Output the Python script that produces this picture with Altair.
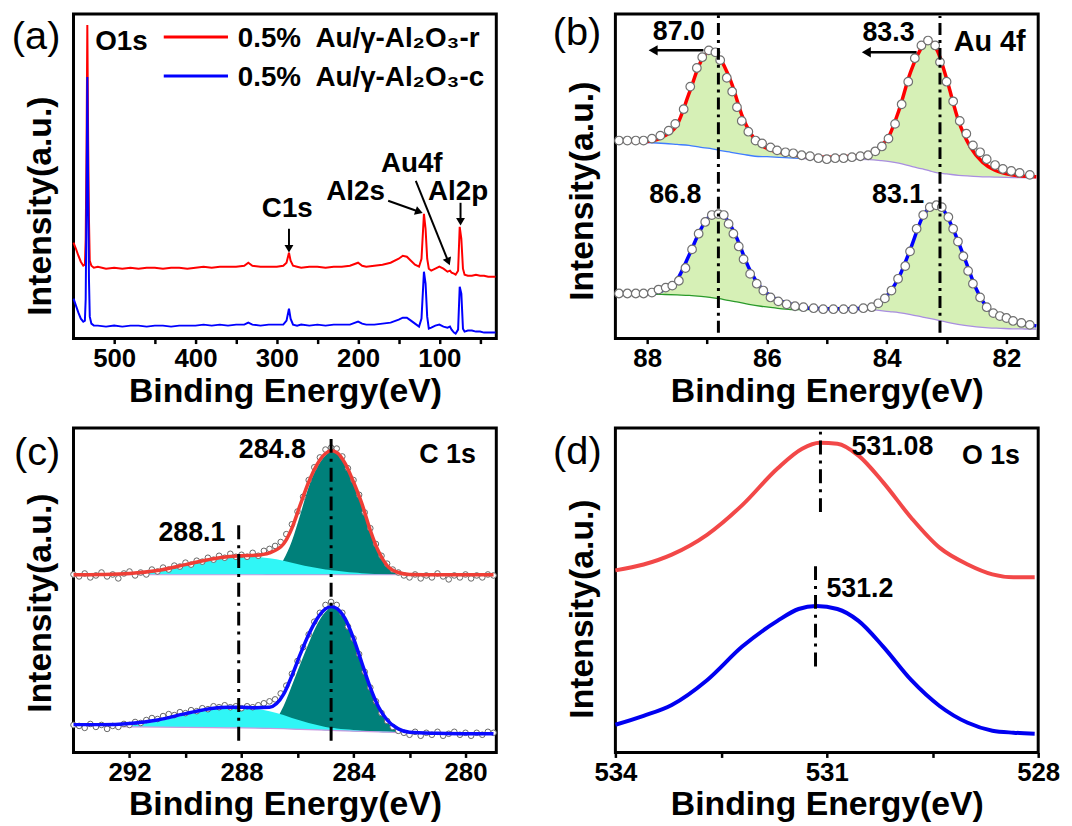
import altair as alt
import pandas as pd

FONT = "Liberation Sans"
RED = "#ff0000"
BLUE = "#0000ff"

# ---------------- (a) survey spectra ----------------
A_EV = [550, 547, 544, 541, 538, 536, 535, 534, 533, 532, 531, 530, 528, 525, 520, 510, 500, 490, 480, 470,
        460, 450, 440, 430, 420, 410, 400, 390, 380, 370, 360, 350, 340, 335, 330, 320, 310, 300, 292, 288,
        285, 283, 280, 275, 270, 260, 250, 240, 230, 220, 210, 200, 195, 190, 180, 170, 160, 150, 145, 140,
        135, 130, 125, 122, 119, 117, 115, 113, 110, 105, 100, 95, 90, 87, 85, 82, 80, 77, 75, 73,
        71, 69, 65, 60, 55, 50, 45, 40, 35, 31]
A_R = [96, 90, 83, 77, 73, 74, 100, 190, 314, 200, 120, 78, 73, 71, 72, 70, 71, 70, 71, 70,
       71, 71, 70, 71, 71, 70, 71, 72, 71, 72, 72, 72, 73, 76, 73, 72, 72, 72, 73, 76,
       86, 78, 73, 72, 71, 72, 72, 71, 72, 72, 73, 76, 73, 72, 73, 74, 76, 80, 83, 82,
       78, 74, 72, 80, 125, 110, 80, 70, 68, 70, 72, 70, 67, 68, 66, 65, 64, 68, 112, 100,
       70, 64, 63, 63, 64, 63, 63, 62, 62, 62]
A_C = [40, 33, 26, 20, 17, 18, 40, 140, 262, 150, 60, 22, 15, 13, 13, 12, 13, 12, 13, 13,
       12, 13, 13, 12, 13, 13, 13, 14, 13, 14, 13, 14, 14, 16, 14, 13, 14, 14, 14, 18,
       30, 20, 14, 13, 14, 13, 14, 13, 14, 14, 14, 17, 15, 14, 14, 15, 16, 19, 21, 21,
       18, 15, 12, 20, 67, 55, 22, 10, 11, 13, 14, 12, 11, 12, 9, 6, 5, 9, 52, 45,
       10, 7, 8, 8, 7, 7, 6, 6, 6, 6]
LBL_R = "0.5%\u00a0 Au/γ-Al₂O₃-r"
LBL_C = "0.5%\u00a0 Au/γ-Al₂O₃-c"
# legend sample lines / labels (data units of panel a)
LEG_X1 = [439, 439]
LEG_X2 = [360, 360]
LEG_Y = [302, 263]
LEG_TX = [348, 348]
LEG_TY = [300, 261]
A_TXT = ["O1s", "C1s", "Al2s", "Au4f", "Al2p"]
A_TXT_X = [491, 287, 203, 134, 77]
A_TXT_Y = [297, 130, 147, 175, 147]
A_ARR_X1 = [285, 163, 129, 74]
A_ARR_Y1 = [110, 138, 158, 136]
A_ARR_X2 = [285, 125, 89, 74]
A_ARR_Y2 = [90, 127, 77, 117]
A_ARR_ANG = [180, 110, 158, 180]

# ---------------- (b) Au 4f ----------------
B_R_CIRC_X = [88.47, 88.33, 88.19, 88.06, 87.92, 87.78, 87.64, 87.53, 87.39, 87.28, 87.17, 87.08,
              86.97, 86.86, 86.78, 86.67, 86.58, 86.5, 86.42, 86.31, 86.19, 86.08,
              85.94, 85.83, 85.69, 85.56, 85.42, 85.28, 85.14, 85.0,
              84.86, 84.72, 84.58, 84.44, 84.31, 84.19, 84.08,
              83.97, 83.86, 83.75, 83.64, 83.53, 83.42, 83.31, 83.19, 83.11, 83.0,
              82.89, 82.78, 82.67, 82.56, 82.44, 82.33, 82.19, 82.06, 81.92, 81.78, 81.61]
B_R_CIRC_Y = [202, 202, 202, 202, 204, 207, 212, 219, 234, 257, 276, 287,
              294, 292, 284, 266, 252, 236, 222, 211, 202, 199,
              195, 192, 190, 189, 187, 186, 184, 183,
              184, 184, 185, 186, 187, 191, 196,
              204, 219, 239, 262, 286, 299, 304, 299, 282, 262,
              242, 222, 209, 197, 190, 183, 177, 173, 171, 169, 167]
B_R_FIT_X = [88.47, 88.0, 87.7, 87.5, 87.3, 87.1, 86.95, 86.8, 86.6, 86.4, 86.2, 86.0, 85.7, 85.4, 85.0, 84.6,
             84.3, 84.1, 83.95, 83.8, 83.6, 83.4, 83.28, 83.15, 83.0, 82.8, 82.6, 82.4, 82.2, 82.0, 81.8, 81.5]
B_R_FIT_Y = [201.5, 201, 207, 218, 250, 283, 293, 287, 262, 225, 203, 194, 189, 186, 185, 186,
             189, 196, 208, 232, 272, 298, 303, 293, 265, 222, 195, 180, 172, 168, 166, 165]
B_R_BG_Y = [200.7, 200, 199, 198, 197, 195, 194, 192, 190, 188, 186, 185.5, 184.5, 183.5, 183, 183,
            182.5, 181.5, 180.5, 179, 176, 173, 171, 169, 168, 166.5, 165.7, 165, 164.8, 164.5, 164.2, 164]
B_C_CIRC_X = [88.47, 88.33, 88.19, 88.06, 87.92, 87.81, 87.69, 87.58, 87.47, 87.36, 87.25, 87.14, 87.03,
              86.92, 86.81, 86.72, 86.64, 86.56, 86.47, 86.39, 86.28, 86.17, 86.06,
              85.94, 85.81, 85.67, 85.53, 85.39, 85.22, 85.06,
              84.89, 84.72, 84.56, 84.39, 84.25, 84.14, 84.03,
              83.92, 83.81, 83.69, 83.61, 83.5, 83.39, 83.28, 83.17, 83.08,
              82.97, 82.89, 82.81, 82.72, 82.64, 82.56, 82.44, 82.33, 82.22, 82.11, 82.0,
              81.89, 81.75, 81.61]
B_C_CIRC_Y = [46, 46, 46, 46, 47, 50, 52, 54, 59, 72, 91, 107, 119,
              126, 127, 126, 117, 107, 94, 81, 66, 56, 49,
              42, 38, 35, 33, 32, 31, 30,
              30, 30, 30, 31, 32, 36, 41,
              49, 61, 74, 89, 112, 126, 134, 136, 134,
              124, 112, 99, 84, 69, 56, 42, 32, 26, 23, 21,
              18, 16, 14]
B_C_FIT_X = [88.47, 88.0, 87.7, 87.5, 87.3, 87.1, 86.95, 86.8, 86.65, 86.5, 86.3, 86.1, 85.9, 85.6, 85.3, 85.0,
             84.6, 84.3, 84.1, 83.95, 83.8, 83.6, 83.4, 83.2, 83.05, 82.9, 82.7, 82.5, 82.3, 82.1, 81.9, 81.7, 81.5]
B_C_FIT_Y = [46, 46, 50, 60, 85, 112, 125, 127, 120, 102, 72, 52, 42, 35, 31, 30.5,
             30.5, 31.5, 37, 47, 62, 92, 124, 136, 131, 113, 82, 50, 30, 22, 18, 15, 13]
B_C_BG_Y = [45.5, 45.5, 45, 44.5, 44, 43, 42, 40.7, 39, 37.5, 35, 33, 31.5, 29.7, 29.7, 29.7,
            29.7, 29.7, 28.5, 27.5, 26.5, 24.5, 22, 19.5, 17.5, 15.5, 13.5, 12, 11, 10.5, 10, 9.8, 9.7]
B_DASH_X = [86.81, 83.11]
B_DASH_Y1 = [6, 6]
B_DASH_Y2 = [331, 329]
B_ARR_X1 = [87.06, 83.50]
B_ARR_X2 = [87.90, 84.34]
B_ARR_Y = [294, 292]
B_TXT = ["87.0", "83.3", "86.8", "83.1"]
B_TXT_X = [87.47, 83.97, 87.53, 83.81]
B_TXT_Y = [313, 312, 146, 146]

# ---------------- (c) C 1s ----------------
C_EV = [294, 293, 292, 291, 290, 289, 288.5, 288, 287.5, 287, 286.5, 286.2, 285.9, 285.6, 285.3, 285.0,
        284.8, 284.6, 284.3, 284.0, 283.7, 283.4, 283.1, 282.8, 282.4, 282, 281, 280, 279]
C_R_FIT = [180.7, 181, 182, 185, 191, 197, 199, 200, 200.5, 203, 212, 228, 252, 275, 293, 304,
           306.7, 305, 294, 275, 253, 226, 204, 190, 183, 181, 180.7, 180.7, 180.7]
C_R_CYAN = [180.7, 181, 182, 185, 190.5, 197, 199.5, 200, 199, 197.5, 195, 193, 191, 189, 187.5, 186,
            185.3, 184.7, 183.8, 183, 182.3, 181.8, 181.4, 181, 180.7, 180.7, 180.7, 180.7, 180.7]
C_R_TEAL = [180.7, 180.7, 180.7, 180.7, 180.7, 180.7, 180.7, 180.7, 180.7, 182, 196, 215, 242, 270, 290, 302,
            306, 304, 293, 273, 250, 224, 202, 189, 182, 180.7, 180.7, 180.7, 180.7]
C_R_BG = [180.7, 180.7, 180.7, 180.7, 180.7, 180.7, 180.7, 180.7, 180.7, 180.7, 180.7, 180.7, 180.7, 180.7,
          180.7, 180.7, 180.7, 180.7, 180.7, 180.7, 180.7, 180.7, 180.7, 180.7, 180.7, 180.7, 180.7, 180.7, 180.7]
C_C_FIT = [28.3, 28.3, 29.5, 33, 39.5, 45, 46, 46, 45.5, 46, 59, 78, 100, 120, 136, 146,
           148.3, 146.5, 136, 116, 91, 66, 46, 33, 24, 20.5, 19.5, 19, 19]
C_C_CYAN = [26.7, 27, 28, 31.5, 38, 44, 45.5, 45.7, 44.5, 42, 38, 35, 32.5, 30, 28, 26,
            25.2, 24.5, 23.5, 22.8, 22.2, 21.8, 21.5, 21.2, 20.6, 20.2, 19.6, 19.3, 19]
C_C_TEAL = [26.7, 26.4, 26.1, 25.8, 25.5, 25.2, 25.1, 25, 24.8, 27, 47, 68, 90, 111, 130, 143,
            147.5, 146, 135, 115, 90, 65, 45, 31, 23, 20.5, 19.6, 19.3, 19]
C_C_BG = [26.7, 26.4, 26.1, 25.8, 25.5, 25.2, 25.1, 25, 24.8, 24.5, 24.1, 23.8, 23.5, 23.2, 23, 22.7,
          22.5, 22.3, 22, 21.7, 21.4, 21.1, 20.9, 20.6, 20.2, 20, 19.6, 19.3, 19]
C_CIRC_X = [294.0, 293.8, 293.6, 293.4, 293.2, 293.0, 292.8, 292.6, 292.4, 292.2,
            292.0, 291.8, 291.6, 291.4, 291.2, 291.0, 290.8, 290.6, 290.4, 290.2,
            290.0, 289.8, 289.6, 289.4, 289.2, 289.0, 288.8, 288.6, 288.4, 288.2,
            288.0, 287.8, 287.6, 287.4, 287.2, 287.0, 286.8, 286.6, 286.4, 286.2,
            286.0, 285.8, 285.6, 285.4, 285.2, 285.0, 284.8, 284.6, 284.4, 284.2,
            284.0, 283.8, 283.6, 283.4, 283.2, 283.0, 282.8, 282.6, 282.4, 282.2,
            282.0, 281.8, 281.6, 281.4, 281.2, 281.0, 280.8, 280.6, 280.4, 280.2,
            280.0, 279.8, 279.6, 279.4, 279.2, 279.0]
C_R_CIRC = [181, 179, 182, 178, 180, 183, 179, 181, 177, 182,
            184, 180, 183, 181, 186, 184, 188, 186, 190, 189,
            193, 191, 195, 194, 198, 196, 200, 198, 202, 199,
            201, 199, 203, 200, 205, 207, 210, 214, 222, 232,
            245, 260, 277, 290, 300, 308, 310, 309, 301, 289,
            277, 262, 244, 228, 212, 200, 192, 186, 183, 180,
            178, 181, 177, 180, 178, 182, 179, 176, 180, 178,
            181, 177, 180, 178, 181, 180]
C_C_CIRC = [28, 27, 25, 29, 26, 28, 24, 27, 26, 29,
            28, 31, 30, 33, 35, 34, 37, 39, 38, 41,
            40, 43, 42, 45, 44, 47, 46, 48, 46, 47,
            45, 47, 46, 48, 50, 52, 54, 60, 68, 80,
            93, 107, 120, 133, 142, 150, 153, 150, 142, 128,
            116, 100, 82, 66, 52, 40, 32, 26, 22, 20,
            18, 21, 17, 20, 18, 21, 17, 19, 21, 18,
            20, 17, 20, 18, 21, 20]
C_DASH_X = [288.1, 284.8]
C_DASH_Y1 = [12, 12]
C_DASH_Y2 = [232, 323]
C_TXT = ["284.8", "288.1", "C 1s"]
C_TXT_X = [286.9, 289.77, 280.64]
C_TXT_Y = [308, 223, 302]

# ---------------- (d) O 1s ----------------
D_R_EV = [534.0, 533.6, 533.2, 532.7, 532.2, 531.7, 531.35, 531.1, 530.85, 530.55, 530.2, 529.8, 529.4,
          529.0, 528.65, 528.35, 528.05]
D_R = [184, 190, 200, 220, 250, 287, 307, 313, 312, 300, 273, 237, 207, 190, 180, 177, 177]
D_C_EV = [534.0, 533.6, 533.2, 532.7, 532.2, 531.7, 531.4, 531.15, 530.85, 530.55, 530.2, 529.8, 529.4,
          529.0, 528.65, 528.35, 528.05]
D_C = [28, 37, 48, 73, 107, 133, 145, 148, 145, 133, 107, 73, 47, 30, 22, 20, 19]
D_DASH_X = [531.09, 531.16]
D_DASH_Y1 = [243, 87]
D_DASH_Y2 = [325, 193]
D_TXT = ["531.08", "531.2", "O 1s"]
D_TXT_X = [530.07, 530.53, 528.67]
D_TXT_Y = [309, 165, 300]

PANEL_LBL = ["(a)", "(b)", "(c)", "(d)"]
PANEL_X = [596, 89.17, 295.3, 534.54]
PANEL_Y = [302, 312, 304, 304]

W, H = 426, 327


def axes(xvals, test, title_y):
    ax = alt.Axis(values=xvals, labelExpr=f"({test}) ? datum.label : ''",
                  title="Binding Energy(eV)", grid=False, domain=False,
                  ticks=True, tickSize=5, tickWidth=2.5, tickColor="black",
                  labelFont=FONT, labelFontSize=26, labelFontWeight="bold", labelColor="black",
                  labelPadding=2, labelOverlap=False, labelFlush=False,
                  titleFont=FONT, titleFontSize=34, titleFontWeight="bold", titleColor="black",
                  titlePadding=3)
    ay = alt.Axis(title="Intensity(a.u.)", labels=False, ticks=False, domain=False, grid=False,
                  titleFont=FONT, titleFontSize=34, titleFontWeight="bold", titleColor="black",
                  titlePadding=16, titleY=title_y)
    return ax, ay


def make_xy(xdom, ydom, ax, ay):
    xs = alt.Scale(domain=xdom, nice=False, zero=False)
    ys = alt.Scale(domain=ydom, nice=False, zero=False)

    def X(f):
        return alt.X(f"{f}:Q", scale=xs, axis=ax)

    def Y(f):
        return alt.Y(f"{f}:Q", scale=ys, axis=ay)
    return X, Y


def text_layer(X, Y, t, xs, ys, size=27, weight="bold", align="center"):
    df = pd.DataFrame({"x": xs, "y": ys, "t": t})
    return alt.Chart(df).mark_text(font=FONT, fontSize=size, fontWeight=weight, color="black",
                                   align=align, baseline="middle").encode(
        x=X("x"), y=Y("y"), text="t:N")


def dash_layer(X, Y, xs, y1, y2, dash):
    df = pd.DataFrame({"x": xs, "y": y1, "y2": y2})
    return alt.Chart(df).mark_rule(color="black", strokeWidth=3, strokeDash=dash).encode(
        x=X("x"), y=Y("y"), y2="y2:Q")


# ---------- panel (a) ----------
ax, ay = axes([500, 450, 400, 350, 300, 250, 200, 150, 100, 50], "datum.value % 100 == 0", 193)
X, Y = make_xy([550, 30], [0, 325], ax, ay)
cscale = alt.Scale(domain=[LBL_R, LBL_C], range=[RED, BLUE])
dfA = pd.DataFrame({"x": A_EV + A_EV, "y": A_R + A_C,
                    "s": [LBL_R] * len(A_EV) + [LBL_C] * len(A_EV)})
a_lines = alt.Chart(dfA).mark_line(strokeWidth=2).encode(
    x=X("x"), y=Y("y"), color=alt.Color("s:N", scale=cscale, legend=None))
dfLeg = pd.DataFrame({"x": LEG_X1, "x2": LEG_X2, "y": LEG_Y, "tx": LEG_TX, "ty": LEG_TY,
                      "s": [LBL_R, LBL_C]})
a_leg_line = alt.Chart(dfLeg).mark_rule(strokeWidth=3).encode(
    x=X("x"), x2="x2:Q", y=Y("y"), color=alt.Color("s:N", scale=cscale, legend=None))
a_leg_txt = alt.Chart(dfLeg).mark_text(font=FONT, fontSize=28, fontWeight="bold", color="black",
                                       align="left", baseline="middle").encode(
    x=X("tx"), y=Y("ty"), text="s:N")
dfAarr = pd.DataFrame({"x": A_ARR_X1, "y": A_ARR_Y1, "x2": A_ARR_X2, "y2": A_ARR_Y2, "a": A_ARR_ANG})
a_arr = alt.Chart(dfAarr).mark_rule(color="black", strokeWidth=2).encode(
    x=X("x"), y=Y("y"), x2="x2:Q", y2="y2:Q")
a_head = alt.Chart(dfAarr).mark_point(shape="triangle-up", filled=True, color="black", size=80,
                                      opacity=1).encode(
    x=X("x2"), y=Y("y2"), angle=alt.Angle("a:Q", scale=None))
pa = alt.layer(
    a_lines, a_leg_line, a_leg_txt, a_arr, a_head,
    text_layer(X, Y, A_TXT, A_TXT_X, A_TXT_Y, 28),
    text_layer(X, Y, [PANEL_LBL[0]], [PANEL_X[0]], [PANEL_Y[0]], 40, "normal"),
).properties(width=W, height=H)

# ---------- panel (b) ----------
ax, ay = axes([88, 87, 86, 85, 84, 83, 82], "datum.value % 2 == 0", 178)
X, Y = make_xy([88.53, 81.47], [0, 331], ax, ay)
b_layers = []
for fx, fy, bg, circx, circy, col, bgl in [
        (B_R_FIT_X, B_R_FIT_Y, B_R_BG_Y, B_R_CIRC_X, B_R_CIRC_Y, RED, "#3f7cff"),
        (B_C_FIT_X, B_C_FIT_Y, B_C_BG_Y, B_C_CIRC_X, B_C_CIRC_Y, BLUE, "#2a9a2a")]:
    dff = pd.DataFrame({"x": fx, "y": fy, "y2": bg})
    b_layers.append(alt.Chart(dff).mark_area(color="#d6f0b6", interpolate="monotone").encode(
        x=X("x"), y=Y("y"), y2="y2:Q"))
    b_layers.append(alt.Chart(dff).transform_filter("datum.x >= 85.2").mark_line(
        color=bgl, strokeWidth=1.3, interpolate="monotone").encode(x=X("x"), y=Y("y2")))
    b_layers.append(alt.Chart(dff).transform_filter("datum.x <= 85.4").mark_line(
        color="#a98ee0", strokeWidth=1.3, interpolate="monotone").encode(x=X("x"), y=Y("y2")))
    b_layers.append(alt.Chart(dff).mark_line(color=col, strokeWidth=3.5, interpolate="monotone").encode(
        x=X("x"), y=Y("y")))
    dfc = pd.DataFrame({"x": circx, "y": circy})
    b_layers.append(alt.Chart(dfc).mark_circle(color="white", stroke="#707070", strokeWidth=1.2,
                                               size=75, opacity=1).encode(x=X("x"), y=Y("y")))
b_layers.append(dash_layer(X, Y, B_DASH_X, B_DASH_Y1, B_DASH_Y2, [12, 5, 3, 5]))
dfBarr = pd.DataFrame({"x": B_ARR_X1, "x2": B_ARR_X2, "y": B_ARR_Y, "a": [270, 270]})
b_layers.append(alt.Chart(dfBarr).mark_rule(color="black", strokeWidth=2.5).encode(
    x=X("x"), x2="x2:Q", y=Y("y")))
b_layers.append(alt.Chart(dfBarr).mark_point(shape="triangle-up", filled=True, color="black", size=110,
                                             opacity=1).encode(
    x=X("x2"), y=Y("y"), angle=alt.Angle("a:Q", scale=None)))
b_layers.append(text_layer(X, Y, B_TXT, B_TXT_X, B_TXT_Y, 27))
b_layers.append(text_layer(X, Y, ["Au 4f"], [82.28], [302], 29))
b_layers.append(text_layer(X, Y, [PANEL_LBL[1]], [PANEL_X[1]], [PANEL_Y[1]], 40, "normal"))
pb = alt.layer(*b_layers).properties(width=W, height=H)

# ---------- panel (c) ----------
ax, ay = axes([292, 290, 288, 286, 284, 282, 280], "datum.value % 4 == 0", 176)
X, Y = make_xy([294.0, 278.9], [0, 330], ax, ay)
c_layers = []
for fit, cyan, teal, bg, circ, col in [
        (C_R_FIT, C_R_CYAN, C_R_TEAL, C_R_BG, C_R_CIRC, "#ef3e36"),
        (C_C_FIT, C_C_CYAN, C_C_TEAL, C_C_BG, C_C_CIRC, "#0a0aff")]:
    dfx = pd.DataFrame({"x": C_EV, "fit": fit, "cyan": cyan, "teal": teal, "bg": bg})
    c_layers.append(alt.Chart(dfx).mark_area(color="#00807a", interpolate="monotone").encode(
        x=X("x"), y=Y("teal"), y2="bg:Q"))
    c_layers.append(alt.Chart(dfx).mark_area(color="#30f6f6", interpolate="monotone").encode(
        x=X("x"), y=Y("cyan"), y2="bg:Q"))
    c_layers.append(alt.Chart(dfx).mark_line(color="#c89be0", strokeWidth=1.2).encode(
        x=X("x"), y=Y("bg")))
    dfc = pd.DataFrame({"x": C_CIRC_X, "y": circ})
    c_layers.append(alt.Chart(dfc).mark_circle(color="white", stroke="#666666", strokeWidth=1,
                                               size=32, opacity=1).encode(x=X("x"), y=Y("y")))
    c_layers.append(alt.Chart(dfx).mark_line(color=col, strokeWidth=3.5, interpolate="monotone").encode(
        x=X("x"), y=Y("fit")))
c_layers.append(dash_layer(X, Y, C_DASH_X, C_DASH_Y1, C_DASH_Y2, [14, 6, 3, 6]))
c_layers.append(text_layer(X, Y, C_TXT, C_TXT_X, C_TXT_Y, 27))
c_layers.append(text_layer(X, Y, [PANEL_LBL[2]], [PANEL_X[2]], [PANEL_Y[2]], 40, "normal"))
pc = alt.layer(*c_layers).properties(width=W, height=H)

# ---------- panel (d) ----------
ax, ay = axes([534, 532.5, 531, 529.5, 528], "datum.value % 3 == 0", 182)
X, Y = make_xy([534, 528], [0, 328], ax, ay)
dfDr = pd.DataFrame({"x": D_R_EV, "y": D_R})
dfDc = pd.DataFrame({"x": D_C_EV, "y": D_C})
pd_ = alt.layer(
    alt.Chart(dfDr).mark_line(color="#f24848", strokeWidth=4, interpolate="monotone").encode(
        x=X("x"), y=Y("y")),
    alt.Chart(dfDc).mark_line(color="#0000f0", strokeWidth=4, interpolate="monotone").encode(
        x=X("x"), y=Y("y")),
    dash_layer(X, Y, D_DASH_X, D_DASH_Y1, D_DASH_Y2, [14, 6, 3, 6]),
    text_layer(X, Y, D_TXT, D_TXT_X, D_TXT_Y, 27),
    text_layer(X, Y, [PANEL_LBL[3]], [PANEL_X[3]], [PANEL_Y[3]], 40, "normal"),
).properties(width=W, height=H)

chart = alt.concat(pa, pb, pc, pd_, columns=2, spacing={"row": 90, "column": 120}, bounds="flush")
chart = chart.configure_view(stroke="black", strokeWidth=3).properties(
    padding={"left": 2, "top": 0, "right": 2, "bottom": 2})

chart.save("out.html", embed_options={"renderer": "svg", "actions": False})
